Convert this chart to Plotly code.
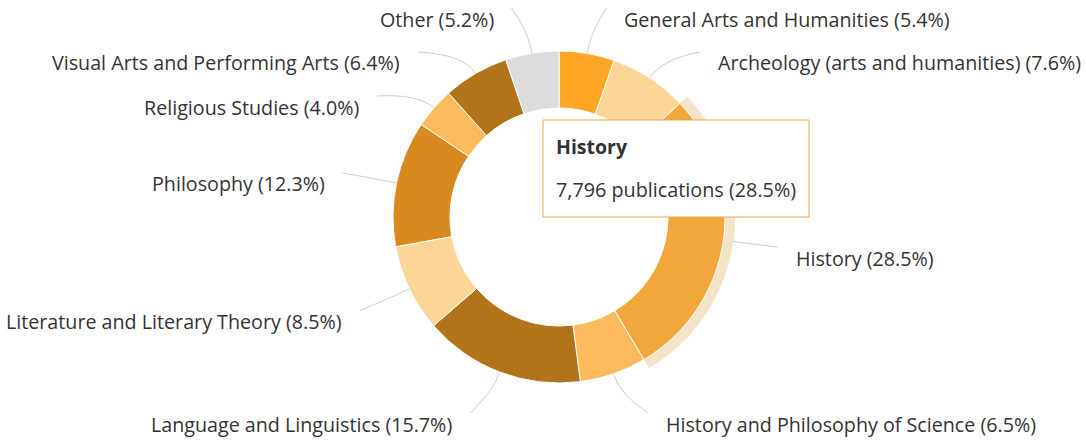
import math
import plotly.graph_objects as go

# --- data -------------------------------------------------------------
categories = [
    "General Arts and Humanities",
    "Archeology (arts and humanities)",
    "History",
    "History and Philosophy of Science",
    "Language and Linguistics",
    "Literature and Literary Theory",
    "Philosophy",
    "Religious Studies",
    "Visual Arts and Performing Arts",
    "Other",
]
shares = [5.4, 7.6, 28.5, 6.5, 15.7, 8.5, 12.3, 4.0, 6.4, 5.2]
hovered = "History"
hovered_publications = 7796

slice_colors = [
    "#fca624", "#fdd596", "#f1a73b", "#fdba5c", "#b2741b",
    "#fdd596", "#d88a21", "#fdba5c", "#b2741b", "#dcdcdc",
]

# --- geometry (pixels) ------------------------------------------------
W, H = 1086, 445
CX, CY = 559, 217
R_OUT, R_HOLE, R_HALO = 166, 109, 176
R_LABEL = 216              # where the connectors end (vertical placement)
LBL_A, LBL_B = 221, 214    # ellipse used to find the label's x from its y
GAP = 44
Y_TOP, Y_BOT = 8, 413
FONT = "Open Sans"
TEXT = "#333333"


def px(x, y):
    return x / W, 1 - y / H


def dom(r):
    return dict(x=[(CX - r) / W, (CX + r) / W], y=[1 - (CY + r) / H, 1 - (CY - r) / H])


fig = go.Figure()

# hover halo behind the hovered slice
fig.add_trace(go.Pie(
    values=shares, labels=categories, sort=False, direction="clockwise", rotation=0,
    hole=R_OUT / R_HALO, domain=dom(R_HALO), textinfo="none", hoverinfo="skip",
    marker=dict(colors=["#f5e3c9" if c == hovered else "rgba(0,0,0,0)"
                        for c in categories], line=dict(width=0)),
    showlegend=False,
))

fig.add_trace(go.Pie(
    values=shares, labels=categories, sort=False, direction="clockwise", rotation=0,
    hole=R_HOLE / R_OUT, domain=dom(R_OUT), textinfo="none",
    marker=dict(colors=slice_colors, line=dict(color="#ffffff", width=1)),
    showlegend=False,
))

# --- outside labels with connectors (highcharts-like layout) ----------
total = sum(shares)
items = []
acc = 0
for name, v in zip(categories, shares):
    mid = (acc + v / 2) / total * 2 * math.pi
    acc += v
    items.append(dict(name=name, v=v, ang=mid, right=math.sin(mid) >= 0,
                      y=CY - R_LABEL * math.cos(mid)))

shapes = []
annotations = []
for side in (True, False):
    grp = sorted([it for it in items if it["right"] == side], key=lambda d: d["y"])
    prev = None
    for it in grp:
        y = max(it["y"], Y_TOP)
        if prev is not None:
            y = max(y, prev + GAP)
        it["y"] = y
        prev = y
    nxt = None
    for it in reversed(grp):
        y = min(it["y"], Y_BOT)
        if nxt is not None:
            y = min(y, nxt - GAP)
        it["y"] = y
        nxt = y

for it in items:
    sgn = 1 if it["right"] else -1
    dy = it["y"] - CY
    ex = CX + sgn * LBL_A * math.sqrt(max(1 - (dy / LBL_B) ** 2, 0))
    ey = it["y"]
    sx, sy = CX + R_OUT * math.sin(it["ang"]), CY - R_OUT * math.cos(it["ang"])
    qx, qy = CX + (R_OUT + 22) * math.sin(it["ang"]), CY - (R_OUT + 22) * math.cos(it["ang"])
    p0, p1, p2 = px(sx, sy), px(qx, qy), px(ex, ey)
    shapes.append(dict(
        type="path", xref="paper", yref="paper", layer="below",
        path=f"M {p0[0]},{p0[1]} Q {p1[0]},{p1[1]} {p2[0]},{p2[1]}",
        line=dict(color="#cccccc", width=1),
    ))
    tx, ty = px(ex + sgn * 16, ey + 11)
    annotations.append(dict(
        x=tx, y=ty, xref="paper", yref="paper", showarrow=False,
        xanchor="left" if it["right"] else "right", yanchor="middle",
        text=f"{it['name']} ({it['v']:.1f}%)",
        font=dict(family=FONT, size=19.7, color=TEXT),
    ))

# --- tooltip ------------------------------------------------------------
h_share = shares[categories.index(hovered)]
x0, y0 = px(543, 120)
x1, y1 = px(809, 217)
shapes.append(dict(type="rect", xref="paper", yref="paper", x0=x0, y0=y1, x1=x1, y1=y0,
                   fillcolor="#ffffff", line=dict(color="#e9a64a", width=1), layer="above"))
tx, ty = px(554, 146)
annotations.append(dict(x=tx, y=ty, xref="paper", yref="paper", showarrow=False,
                        xanchor="left", yanchor="middle", text=f"<b>{hovered}</b>",
                        font=dict(family=FONT, size=19.5, color=TEXT)))
tx, ty = px(554, 190)
annotations.append(dict(x=tx, y=ty, xref="paper", yref="paper", showarrow=False,
                        xanchor="left", yanchor="middle",
                        text=f"{hovered_publications:,} publications ({h_share:.1f}%)",
                        font=dict(family=FONT, size=19.8, color=TEXT)))

fig.update_layout(
    width=W, height=H,
    margin=dict(l=0, r=0, t=0, b=0),
    paper_bgcolor="#ffffff", plot_bgcolor="#ffffff",
    shapes=shapes, annotations=annotations,
    font=dict(family=FONT, color=TEXT),
)

fig.write_html("out.html", config={"displayModeBar": False},
               post_script="document.body.style.margin='0';")
